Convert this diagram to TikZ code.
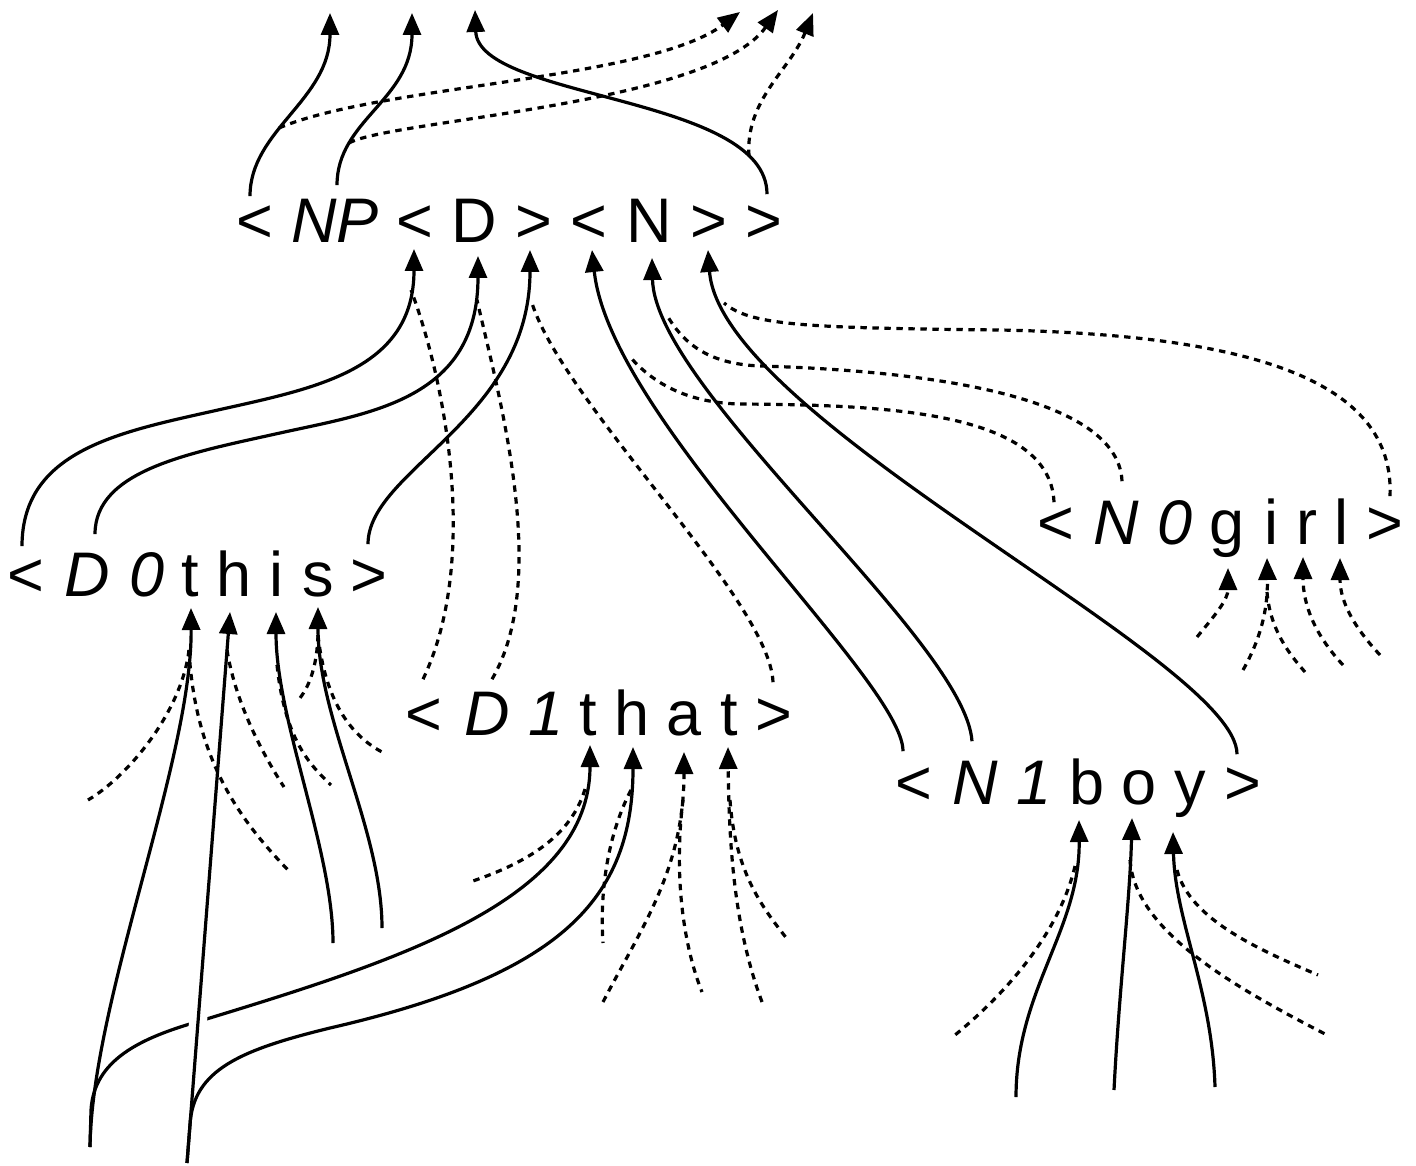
\documentclass[tikz,border=0pt]{standalone}
\usepackage{fontspec}
\setmainfont{Liberation Sans}
\usetikzlibrary{arrows.meta,calc}
\begin{document}
\begin{tikzpicture}[x=0.5pt,y=-0.5pt,
  glyph/.style={font=\fontsize{31.5pt}{36pt}\selectfont, inner sep=0pt, text height=22.5pt, text depth=0pt, anchor=south},
  iglyph/.style={glyph, font=\fontsize{31.5pt}{36pt}\selectfont\itshape},
  sol/.style={line width=1.6pt},
  dsh/.style={line width=1.6pt, dash pattern=on 3.2pt off 2.8pt},
  arr/.style={-{Triangle[length=11pt,width=9pt]}}]
\useasboundingbox (0,0) rectangle (1416,1165);
% ---- row A
\node[glyph]  (a1) at (255,243) {<};
\node[iglyph] (a2) at (335,243) {NP};
\node[glyph]  (a3) at (415,243) {<};
\node[glyph]  (a4) at (474,243) {D};
\node[glyph]  (a5) at (534,243) {>};
\node[glyph]  (a6) at (589,243) {<};
\node[glyph]  (a7) at (649,243) {N};
\node[glyph]  (a8) at (709,243) {>};
\node[glyph]  (a9) at (764,243) {>};
% ---- row B
\node[glyph]  (b1) at (26,597) {<};
\node[iglyph] (b2) at (87,597) {D};
\node[iglyph] (b3) at (147,597) {0};
\node[glyph]  (b4) at (190,597) {t};
\node[glyph]  (b5) at (234,597) {h};
\node[glyph]  (b6) at (276,597) {i};
\node[glyph]  (b7) at (318,597) {s};
\node[glyph]  (b8) at (369,597) {>};
% ---- row C
\node[glyph]  (c1) at (424,736) {<};
\node[iglyph] (c2) at (487,736) {D};
\node[iglyph] (c3) at (546,736) {1};
\node[glyph]  (c4) at (588,736) {t};
\node[glyph]  (c5) at (632,736) {h};
\node[glyph]  (c6) at (684,736) {a};
\node[glyph]  (c7) at (729,736) {t};
\node[glyph]  (c8) at (774,736) {>};
% ---- row D
\node[glyph]  (d1) at (914,805) {<};
\node[iglyph] (d2) at (975,805) {N};
\node[iglyph] (d3) at (1034,805) {1};
\node[glyph]  (d4) at (1087,805) {b};
\node[glyph]  (d5) at (1139,805) {o};
\node[glyph]  (d6) at (1190,805) {y};
\node[glyph]  (d7) at (1243,805) {>};
% ---- row E
\node[glyph]  (e1) at (1056,545) {<};
\node[iglyph] (e2) at (1116,545) {N};
\node[iglyph] (e3) at (1175,545) {0};
\node[glyph]  (e4) at (1227,545) {g};
\node[glyph]  (e5) at (1271,545) {i};
\node[glyph]  (e6) at (1307,545) {r};
\node[glyph]  (e7) at (1341,545) {l};
\node[glyph]  (e8) at (1385,545) {>};
% ---- attachment points
\coordinate (a1s) at ($(a1.north)+(-5,-1)$);
\coordinate (a2s) at ($(a2.north)+(2,-12)$);
\coordinate (a9s) at ($(a9.north)+(3,-3)$);
\coordinate (a3t) at ($(a3.south)+(-1,6)$);
\coordinate (a4t) at ($(a4.south)+(4,13)$);
\coordinate (a5t) at ($(a5.south)+(-4,7)$);
\coordinate (a6t) at ($(a6.south)+(3,7)$);
\coordinate (a7t) at ($(a7.south)+(3,15)$);
\coordinate (a8t) at ($(a8.south)+(-1,7)$);
\coordinate (b1s) at ($(b1.north)+(-4,-5)$);
\coordinate (b2s) at ($(b2.north)+(8,-17)$);
\coordinate (b8s) at ($(b8.north)+(-1,-7)$);
\coordinate (b4t) at ($(b4.south)+(1,11)$);
\coordinate (b5t) at ($(b5.south)+(-4,15)$);
\coordinate (b6t) at ($(b6.south)+(0,15)$);
\coordinate (b7t) at ($(b7.south)+(0,10)$);
\coordinate (c1s) at ($(c1.north)+(-1,-11)$);
\coordinate (c2s) at ($(c2.north)+(5,-11)$);
\coordinate (c8s) at ($(c8.north)+(-1,-8)$);
\coordinate (c4t) at ($(c4.south)+(2,9)$);
\coordinate (c5t) at ($(c5.south)+(1,11)$);
\coordinate (c6t) at ($(c6.south)+(0,16)$);
\coordinate (c7t) at ($(c7.south)+(-1,11)$);
\coordinate (d1s) at ($(d1.north)+(-11,-8)$);
\coordinate (d2s) at ($(d2.north)+(-3,-18)$);
\coordinate (d7s) at ($(d7.north)+(-6,-5)$);
\coordinate (d4t) at ($(d4.south)+(-8,15)$);
\coordinate (d5t) at ($(d5.south)+(-7,13)$);
\coordinate (d6t) at ($(d6.south)+(-17,27)$);
\coordinate (e1s) at ($(e1.north)+(-2,3)$);
\coordinate (e2s) at ($(e2.north)+(6,-18)$);
\coordinate (e8s) at ($(e8.north)+(5,-3)$);
\coordinate (e4t) at ($(e4.south)+(1,23)$);
\coordinate (e5t) at ($(e5.south)+(-4,13)$);
\coordinate (e6t) at ($(e6.south)+(-4,12)$);
\coordinate (e7t) at ($(e7.south)+(-1,13)$);
% ---- free ends
\coordinate (tp1) at (330,13);
\coordinate (tp2) at (412,13);
\coordinate (tp3) at (475,10);
\coordinate (tp4) at (740,12);
\coordinate (tp5) at (778,10);
\coordinate (tp6) at (813,13);
\coordinate (bl1) at (90,1147);
\coordinate (bl2) at (187,1163);
\coordinate (bi) at (333,943);
\coordinate (bs) at (382,928);
\coordinate (fb1) at (88,800);
\coordinate (fb2) at (288,870);
\coordinate (fb3) at (284,787);
\coordinate (fb4) at (331,785);
\coordinate (fb5) at (300,698);
\coordinate (fb6) at (382,752);
\coordinate (fc1) at (470,882);
\coordinate (fc2) at (603,943);
\coordinate (fc3) at (603,1002);
\coordinate (fc4) at (702,992);
\coordinate (fc5) at (762,1002);
\coordinate (fc6) at (788,940);
\coordinate (bd1) at (1016,1097);
\coordinate (bd2) at (1114,1090);
\coordinate (bd3) at (1215,1087);
\coordinate (fd1) at (955,1035);
\coordinate (fd2) at (1327,1035);
\coordinate (fd3) at (1318,975);
\coordinate (fe1) at (1197,637);
\coordinate (fe2) at (1243,670);
\coordinate (fe3) at (1305,672);
\coordinate (fe4) at (1343,665);
\coordinate (fe5) at (1380,655);
% ---- merge points on other connectors
\coordinate (m1) at (279,128);
\coordinate (m2) at (349,143);
\coordinate (m3) at (749,156);
\coordinate (m4) at (411,290);
\coordinate (m5) at (477,300);
\coordinate (m6) at (531,300);
\coordinate (m7) at (631,358);
\coordinate (m8) at (668,317);
\coordinate (m9) at (724,303);
\coordinate (m10) at (189,650);
\coordinate (m11) at (227,650);
\coordinate (m12) at (277,665);
\coordinate (m13) at (318,635);
\coordinate (m14) at (585,789);
\coordinate (m15) at (631,790);
\coordinate (m16) at (683,800);
\coordinate (m17) at (730,800);
\coordinate (m18) at (1075,866);
\coordinate (m19) at (1130,860);
\coordinate (m20) at (1177,870);
\coordinate (m21) at (1267,592);
% ---- top connectors
\draw[sol,arr] (a1s) .. controls (250,130) and (330,100) .. (tp1);
\draw[sol,arr] (a2s) .. controls (337,120) and (412,100) .. (tp2);
\draw[sol,arr] (a9s) .. controls (767,95) and (478,100) .. (tp3);
\draw[dsh,arr] (m1) .. controls (380,85) and (650,80) .. (tp4);
\draw[dsh,arr] (m2) .. controls (390,120) and (710,105) .. (tp5);
\draw[dsh,arr] (m3) .. controls (745,100) and (790,70) .. (tp6);
% ---- into row A
\draw[sol,arr] (b1s) .. controls (22,450) and (120,432) .. (218,410) .. controls (316,388) and (414,370) .. (a3t);
\draw[sol,arr] (b2s) .. controls (95,470) and (190,453) .. (280,433) .. controls (370,413) and (478,400) .. (a4t);
\draw[sol,arr] (b8s) .. controls (368,470) and (530,420) .. (a5t);
\draw[sol,arr] (d1s) .. controls (903,680) and (610,420) .. (a6t);
\draw[sol,arr] (d2s) .. controls (965,640) and (655,390) .. (a7t);
\draw[sol,arr] (d7s) .. controls (1237,660) and (720,420) .. (a8t);
\draw[dsh] (c1s) .. controls (480,560) and (445,380) .. (m4);
\draw[dsh] (c2s) .. controls (550,580) and (500,400) .. (m5);
\draw[dsh] (c8s) .. controls (770,600) and (560,400) .. (m6);
\draw[dsh] (e1s) .. controls (1050,410) and (880,405) .. (740,404) .. controls (690,403) and (655,385) .. (m7);
\draw[dsh] (e2s) .. controls (1118,390) and (900,370) .. (760,366) .. controls (710,364) and (685,345) .. (m8);
\draw[dsh] (e8s) .. controls (1395,380) and (1250,335) .. (1000,330) .. controls (800,328) and (750,325) .. (m9);
% ---- below row B / row C
\draw[sol,arr] (bl1) .. controls (92,1000) and (192,760) .. (b4t);
\draw[sol,arr] (bl1) -- (91,1110) .. controls (94,1060) and (140,1038) .. (200,1021) .. controls (400,960) and (590,900) .. (c4t);
\draw[sol,arr,preaction={draw=white,line width=9pt,-}] (bl2) -- (b5t);
\draw[sol,arr] (bl2) -- (190,1125) .. controls (193,1070) and (240,1050) .. (330,1028) .. controls (560,975) and (633,900) .. (c5t);
\draw[sol,arr] (bi) .. controls (333,850) and (276,720) .. (b6t);
\draw[sol,arr] (bs) .. controls (382,830) and (318,720) .. (b7t);
\draw[dsh] (m10) .. controls (182,710) and (130,775) .. (fb1);
\draw[dsh] (m10) .. controls (195,760) and (240,820) .. (fb2);
\draw[dsh] (m11) .. controls (235,700) and (260,750) .. (fb3);
\draw[dsh] (m12) .. controls (285,740) and (310,765) .. (fb4);
\draw[dsh] (m13) .. controls (317,665) and (310,685) .. (fb5);
\draw[dsh] (m13) .. controls (325,700) and (350,735) .. (fb6);
% ---- below row C
\draw[dsh] (m14) .. controls (570,840) and (520,865) .. (fc1);
\draw[dsh] (m15) .. controls (605,840) and (600,900) .. (fc2);
\draw[dsh,arr] (fc3) .. controls (640,930) and (684,870) .. (c6t);
\draw[dsh] (m16) .. controls (673,880) and (685,950) .. (fc4);
\draw[dsh,arr] (fc5) .. controls (735,930) and (729,850) .. (c7t);
\draw[dsh] (m17) .. controls (735,870) and (760,905) .. (fc6);
% ---- below row D
\draw[sol,arr] (bd1) .. controls (1016,990) and (1080,930) .. (d4t);
\draw[sol,arr] (bd2) .. controls (1119,990) and (1130,900) .. (d5t);
\draw[sol,arr] (bd3) .. controls (1212,990) and (1175,920) .. (d6t);
\draw[dsh] (m18) .. controls (1060,930) and (1010,990) .. (fd1);
\draw[dsh] (m19) .. controls (1135,930) and (1230,985) .. (fd2);
\draw[dsh] (m20) .. controls (1190,920) and (1260,950) .. (fd3);
% ---- below row E
\draw[dsh,arr] (fe1) .. controls (1215,615) and (1228,600) .. (e4t);
\draw[dsh,arr] (fe2) .. controls (1260,640) and (1268,610) .. (e5t);
\draw[dsh] (m21) .. controls (1270,630) and (1290,655) .. (fe3);
\draw[dsh,arr] (fe4) .. controls (1315,635) and (1303,605) .. (e6t);
\draw[dsh,arr] (fe5) .. controls (1352,625) and (1340,600) .. (e7t);
\end{tikzpicture}
\end{document}
